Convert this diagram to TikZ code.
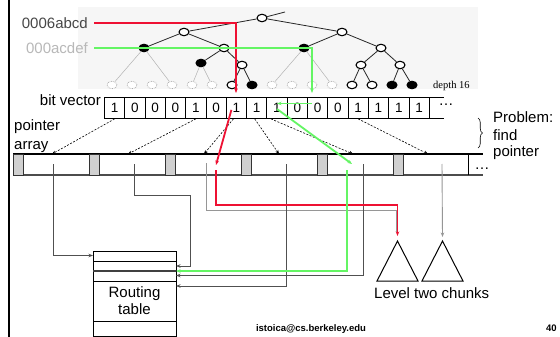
\documentclass[tikz,border=0pt]{standalone}
\usepackage{fontspec}
\setmainfont{Liberation Sans}
\newfontfamily\serifface{Liberation Serif}
\usetikzlibrary{arrows.meta,shapes.geometric,decorations.pathreplacing,calc}

\definecolor{hotred}{RGB}{238,17,51}
\definecolor{litegreen}{RGB}{100,245,100}
\definecolor{wire}{RGB}{80,80,80}
\definecolor{wirelight}{RGB}{150,150,150}
\definecolor{slotgray}{RGB}{208,208,208}
\definecolor{treebg}{RGB}{246,246,246}

\begin{document}
\begin{tikzpicture}[x=1pt,y=-1pt,
  >={Stealth[length=4.5pt,width=3.5pt]},
  lbl/.style={font=\fontsize{15}{17.5}\selectfont,inner sep=0pt},
  bitcell/.style={draw,line width=0.9pt,minimum width=20.3pt,minimum height=20.7pt,
    inner sep=0pt,anchor=north west,font=\fontsize{13.5}{15}\selectfont},
  slot/.style={draw=black!80,fill=slotgray,line width=0.9pt,minimum width=10pt,
    minimum height=21pt,inner sep=0pt},
  tn/.style={ellipse,draw=black,line width=1.1pt,fill=white,minimum width=10pt,
    minimum height=7.5pt,inner sep=0pt},
  tb/.style={tn,fill=black},
  tg/.style={ellipse,draw=black!35,densely dotted,line width=0.7pt,fill=white,
    minimum width=10pt,minimum height=7.5pt,inner sep=0pt},
  tedge/.style={draw=black!85,line width=0.8pt},
  gedge/.style={draw=black!30,line width=0.5pt},
  ptrdash/.style={draw=black,dashed,dash pattern=on 2pt off 1.5pt,line width=0.6pt,
    -{Stealth[length=4pt,width=3.2pt]}},
  redwire/.style={draw=hotred,line width=1.8pt},
  greenwire/.style={draw=litegreen,line width=1.8pt},
  darkwire/.style={draw=wire,line width=0.8pt},
  palewire/.style={draw=wirelight,line width=0.9pt},
]
\useasboundingbox (0,0) rectangle (560,337);
\fill[white] (0,0) rectangle (560,337);

% slide edge
\draw[line width=2.5pt] (9,0) -- (9,337);

% ---------------- trie --------------------------------------------
\fill[treebg] (78,7) rectangle (478,89);

\node[tn] (n0) at (262,18) {};
\node[tn] (n1) at (184,32) {};
\node[tn] (n2) at (342,32) {};
\node[tb] (n3) at (144,48) {};
\node[tn] (n4) at (224,48) {};
\node[tb] (n5) at (304,48) {};
\node[tn] (n6) at (381,48) {};
\node[tb] (n7) at (201,63) {};
\node[tn] (n8) at (242,65) {};
\node[tn] (n9) at (361,65) {};
\node[tn] (n10) at (400,65) {};
\coordinate (ntop) at (285,12);

\foreach \k in {0,...,5,8,9,10,11} \node[tg] (l\k) at (112+20*\k,85) {};
\foreach \k in {6,12,13} \node[tn] (l\k) at (112+20*\k,85) {};
\foreach \k in {7,14,15} \node[tb] (l\k) at (112+20*\k,85) {};

\draw[tedge] (n0) -- (ntop);
\foreach \a/\b in {n0/n1,n0/n2,n1/n3,n1/n4,n2/n5,n2/n6,n4/n7,n4/n8,
  n6/n9,n6/n10,n8/l6,n8/l7,n9/l12,n9/l13,n10/l14,n10/l15}
  \draw[tedge] (\a) -- (\b);
\foreach \a/\b in {n3/l0,n3/l3,n7/l4,n7/l5,n5/l8,n5/l11}
  \draw[gedge] (\a) -- (\b);

\node[font=\serifface\fontsize{10.5}{12}\selectfont,anchor=base west,inner sep=0pt]
  (depth) at (433,88.5) {depth 16};

% addresses
\node[lbl,anchor=east,text=black!72] (lab1) at (88,23) {0006abcd};
\node[lbl,anchor=east,text=black!28] (lab2) at (88,48) {000acdef};

% ---------------- bit vector ----------------------------------------
\node[lbl,anchor=base east] (bvlab) at (101,106) {bit vector};
\foreach \b [count=\i from 0] in {1,0,0,0,1,0,1,1,1,0,0,0,1,1,1,1}
  \node[bitcell] (b\i) at ({104+20.3*\i},97.3) {\b};
\draw[line width=0.9pt] (b15.north east) -- ++(14,0);
\draw[line width=0.9pt] (b15.south east) -- ++(14,0);
\node[lbl,anchor=base] (bvdots) at (446,106) {\ldots};

% ---------------- pointer array -------------------------------------
\node[lbl,anchor=base west,align=left] (palab) at (14,130) {pointer};
\node[lbl,anchor=base west] (palab2) at (14,149) {array};
\draw[line width=1.1pt] (13,154) -- (483,154);
\draw[line width=1.1pt,black!70] (13,175) -- (483,175);
\draw[line width=1pt] (468,154) -- (468,175);
\foreach \k in {0,...,5} \node[slot] (s\k) at (18+76*\k,164.5) {};
\node[lbl,anchor=base] (padots) at (482,169) {\ldots};

% problem statement
\node[lbl,anchor=base west] (prob1) at (493,122.5) {Problem:};
\node[lbl,anchor=base west] (prob2) at (493,140) {find};
\node[lbl,anchor=base west] (prob3) at (493,157) {pointer};
\draw[line width=0.6pt,decorate,decoration={brace,amplitude=4.5pt}]
  (478,118) -- (478,148);

% entry points on the pointer array
\coordinate (p0) at (52,154);
\coordinate (p1) at (128,154);
\coordinate (p2) at (204,154);
\coordinate (p3) at (279,154);
\coordinate (p4) at (353,154);
\coordinate (p5) at (428,154);

\draw[ptrdash] (b0.south) -- (p0);
\draw[ptrdash] (b4.south) -- (p1);
\draw[ptrdash] ($(b6.south)+(-3,0)$) -- (p2);
\draw[ptrdash] ($(b7.south)+(-2,0)$) -- (p3);
\draw[ptrdash] ($(b8.south)+(-6,0)$) -- (p4);
\draw[ptrdash] (b12.south) -- (p5);

% ---------------- routing table -------------------------------------
\node[draw,line width=1pt,minimum width=83pt,minimum height=85.5pt,anchor=north west,
  inner sep=0pt] (rt) at (93,250.5) {};
\draw[line width=0.9pt] (93,261) -- (176,261);
\draw[line width=1.8pt,black!75] (93,271) -- (176,271);
\draw[line width=0.9pt] (93,281.5) -- (176,281.5);
\draw[line width=0.9pt] (93,321.5) -- (176,321.5);
\node[lbl,align=center] (rtlab) at (134.5,300.5) {Routing\\table};

\coordinate (rin0) at (93,255.5);
\coordinate (rin1) at (176,266);
\coordinate (rin2) at (176,271);
\coordinate (rin3) at (176,275.5);
\coordinate (rin4) at (176,286);

% ---------------- level two chunks ----------------------------------
\coordinate (t1) at (397.5,241);
\coordinate (t2) at (442.5,241);
\draw[line width=1pt,line join=miter] (t1) -- (418,281) -- (377,281) -- cycle;
\draw[line width=1pt,line join=miter] (t2) -- (463,281) -- (422,281) -- cycle;
\node[lbl,anchor=base west] (chunks) at (374,298) {Level two chunks};
\coordinate (t1in) at (397.5,236);
\coordinate (t2in) at (442.5,237);

% ---------------- pointers out of the array -------------------------
\coordinate (d0) at (53,164);
\coordinate (d1) at (134,164);
\coordinate (d2) at (206,163);
\coordinate (d3) at (286,164);
\coordinate (d4) at (363,164);
\coordinate (d5) at (442,164);
\coordinate (dr) at (216,170);
\coordinate (dg) at (347,170);

\draw[darkwire,->] (d0) |- (rin0);
\draw[darkwire,->] (d1) -- (134,195) -| (190.5,266) -- (rin1);
\draw[palewire] (d2) -- (206,210) -| (396.5,232);
\draw[darkwire,->] (d3) |- (rin4);
\draw[darkwire,->] (d4) |- (rin3);
\draw[palewire,->] (d5) -- (t2in);

% ---------------- lookup of 0006abcd (red) --------------------------
\coordinate (rdrop) at (236,93);
\draw[redwire,->,shorten <=6pt] (lab1.east) -| (rdrop);
\draw[redwire,->] ($(b6.south)+(-5,-9)$) -- ($(dr)+(0,-5)$);
\draw[redwire,->] (dr) -- (216,205) -| (t1in);

% ---------------- lookup of 000acdef (green) ------------------------
\coordinate (gdrop) at (312,93);
\draw[greenwire,->,shorten <=6pt] (lab2.east) -| (gdrop);
\draw[greenwire,->] (312,103.5) -- (277,103.5);
\draw[greenwire,->] (277,109) -- ($(dg)+(5,-6)$);
\draw[greenwire,->] (dg) |- (rin2);

% ---------------- footer --------------------------------------------
\node[font=\bfseries\fontsize{9.5}{11}\selectfont,anchor=base,inner sep=0pt]
  (mail) at (311,331) {istoica@cs.berkeley.edu};
\node[font=\bfseries\fontsize{9.5}{11}\selectfont,anchor=base west,inner sep=0pt]
  (pg) at (546,331) {40};
\end{tikzpicture}
\end{document}
